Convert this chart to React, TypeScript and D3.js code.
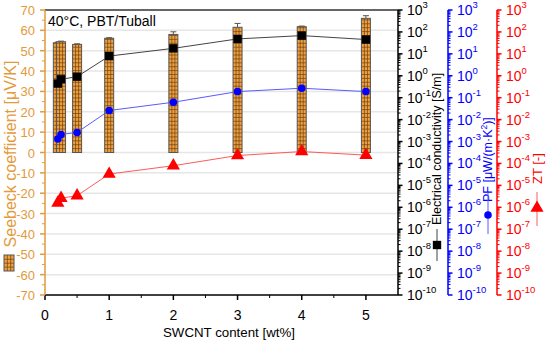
import React from "react";
import * as d3 from "d3";

// SWCNT content [wt%]
const contents = [0.2, 0.25, 0.5, 1, 2, 3, 4, 5];
// Seebeck coefficient [µV/K] and its error
const seebeck = [53.9, 54.4, 53.1, 56.1, 58.0, 61.5, 61.8, 65.9];
const seebeckErr = [0.3, 0.3, 0.3, 0.3, 1.3, 1.9, 0.3, 1.3];
// Electrical conductivity [S/m]
const conductivity = [0.44, 0.69, 0.91, 7.9, 17.8, 48, 68, 45];
// Power factor [µW/(m·K²)]
const powerFactor = [1.3e-3, 2.1e-3, 2.6e-3, 2.6e-2, 6.2e-2, 0.19, 0.27, 0.19];
// ZT [-]
const zt = [1.6e-6, 2.6e-6, 3.4e-6, 3.3e-5, 7.9e-5, 2.3e-4, 3.5e-4, 2.4e-4];

const xTicks = [0, 1, 2, 3, 4, 5];
const seebeckTicks = d3.range(-70, 71, 10);
const decades = d3.range(-10, 4);

const W = 550;
const H = 343;
const FONT = "'Liberation Sans', Arial, sans-serif";
const ORANGE = "#E39A3B";
const BAR = "#F0A040";
const GRIDLINE = "#6b4210";

const left = 45;
const right = 398;
const top = 10;
const bottom = 295;

function LogAxis({ x0, color, scale }: { x0: number; color: string; scale: d3.ScaleLogarithmic<number, number> }) {
  const minors: number[] = [];
  decades.slice(0, -1).forEach((d) => {
    for (let m = 2; m < 10; m++) minors.push(m * Math.pow(10, d));
  });
  return (
    <g>
      <line x1={x0} x2={x0} y1={top} y2={bottom} stroke={color} strokeWidth={1.5} />
      {minors.map((v, i) => (
        <line key={i} x1={x0} x2={x0 + 2.5} y1={scale(v)} y2={scale(v)} stroke={color} strokeWidth={1} />
      ))}
      {decades.map((d) => {
        const y = scale(Math.pow(10, d));
        return (
          <g key={d}>
            <line x1={x0} x2={x0 + 4.5} y1={y} y2={y} stroke={color} strokeWidth={1.5} />
            <text x={x0 + 9} y={y + 5} fill={color} fontSize={14} fontFamily={FONT}>
              10
              <tspan fontSize={9.5} dy={-7}>
                {d}
              </tspan>
            </text>
          </g>
        );
      })}
    </g>
  );
}

function PatternBar({ cx, y1, y2, bw }: { cx: number; y1: number; y2: number; bw: number }) {
  // y1 = top, y2 = bottom; grid rows counted up from the bottom
  const x0 = cx - bw / 2;
  const rows: number[] = [];
  for (let y = y2 - 3.9; y > y1 + 0.5; y -= 3.9) rows.push(y);
  return (
    <g>
      <rect x={x0} y={y1} width={bw} height={y2 - y1} fill={BAR} />
      {[1, 2].map((k) => (
        <line key={k} x1={x0 + (bw * k) / 3} x2={x0 + (bw * k) / 3} y1={y1} y2={y2} stroke={GRIDLINE} strokeWidth={0.7} />
      ))}
      {rows.map((ry, i) => (
        <line key={i} x1={x0} x2={x0 + bw} y1={ry} y2={ry} stroke={GRIDLINE} strokeWidth={0.7} />
      ))}
      <rect x={x0} y={y1} width={bw} height={y2 - y1} fill="none" stroke="#555" strokeWidth={1} />
    </g>
  );
}

export default function App() {
  const x = d3.scaleLinear().domain([0, 5.5]).range([left, right]);
  const yS = d3.scaleLinear().domain([-70, 70]).range([bottom, top]);
  const yLog = d3.scaleLog().domain([1e-10, 1e3]).range([bottom, top]);

  const barW = 9;
  const xMinor = d3.range(0.5, 5.5, 1);
  const sMinor = d3.range(-65, 70, 10);

  const line = (vals: number[]) =>
    d3
      .line<number>()
      .x((_, i) => x(contents[i]))
      .y((v) => yLog(v))(vals) || "";

  const square = d3.symbol().type(d3.symbolSquare).size(70)();
  const circle = d3.symbol().type(d3.symbolCircle).size(45)();
  const triangle = d3.symbol().type(d3.symbolTriangle).size(75)();

  const y0 = yS(0);

  return (
    <svg width={W} height={H} style={{ position: "absolute", left: 0, top: 0, background: "#fff" }}>
      {/* grid */}
      {seebeckTicks.slice(1, -1).map((t) => (
        <line key={t} x1={left} x2={right} y1={yS(t)} y2={yS(t)} stroke="#e6e6e6" strokeWidth={1.5} />
      ))}

      {/* Seebeck bars */}
      {contents.map((c, i) => {
        const topY = yS(seebeck[i]);
        const errY = yS(seebeck[i] + seebeckErr[i]);
        return (
          <g key={c}>
            <PatternBar cx={x(c)} y1={topY} y2={y0} bw={barW} />
            <line x1={x(c)} x2={x(c)} y1={errY} y2={topY} stroke="#555" strokeWidth={1} />
            <line x1={x(c) - 3} x2={x(c) + 3} y1={errY} y2={errY} stroke="#555" strokeWidth={1} />
          </g>
        );
      })}

      {/* lines */}
      <path d={line(conductivity)} fill="none" stroke="#444" strokeWidth={1} />
      <path d={line(powerFactor)} fill="none" stroke="#5a5aff" strokeWidth={1} />
      <path d={line(zt)} fill="none" stroke="#ff5a5a" strokeWidth={1} />
      {contents.map((c, i) => (
        <g key={c}>
          <path d={square} transform={`translate(${x(c)},${yLog(conductivity[i])})`} fill="#000" />
          <path d={circle} transform={`translate(${x(c)},${yLog(powerFactor[i])})`} fill="#0000ff" />
          <path d={triangle} transform={`translate(${x(c)},${yLog(zt[i])})`} fill="#ff0000" />
        </g>
      ))}

      {/* frame */}
      <line x1={left} x2={right} y1={top} y2={top} stroke="#333" strokeWidth={1.5} />

      {/* x axis */}
      <line x1={left} x2={right} y1={bottom} y2={bottom} stroke="#000" strokeWidth={1.5} />
      {xTicks.map((t) => (
        <g key={t}>
          <line x1={x(t)} x2={x(t)} y1={bottom} y2={bottom + 5} stroke="#000" strokeWidth={1.5} />
          <text x={x(t)} y={bottom + 24.5} textAnchor="middle" fontSize={14} fontFamily={FONT}>
            {t}
          </text>
        </g>
      ))}
      {xMinor.map((t) => (
        <line key={t} x1={x(t)} x2={x(t)} y1={bottom} y2={bottom + 3} stroke="#000" strokeWidth={1} />
      ))}
      <text x={229} y={337} textAnchor="middle" fontSize={13.3} fontFamily={FONT}>
        SWCNT content [wt%]
      </text>

      {/* left axis */}
      <line x1={left} x2={left} y1={top} y2={bottom} stroke={ORANGE} strokeWidth={1.5} />
      {seebeckTicks.map((t) => (
        <g key={t}>
          <line x1={left - 5} x2={left} y1={yS(t)} y2={yS(t)} stroke={ORANGE} strokeWidth={1.5} />
          <text x={35} y={yS(t) + 5} textAnchor="end" fill={ORANGE} fontSize={13} fontFamily={FONT}>
            {t}
          </text>
        </g>
      ))}
      {sMinor.map((t) => (
        <line key={t} x1={left - 3} x2={left} y1={yS(t)} y2={yS(t)} stroke={ORANGE} strokeWidth={1} />
      ))}
      <text
        transform={`translate(16,154) rotate(-90)`}
        textAnchor="middle"
        fill={ORANGE}
        fontSize={16}
        fontFamily={FONT}
      >
        Seebeck coefficient [μV/K]
      </text>
      <PatternBar cx={9} y1={255} y2={271} bw={10} />

      {/* right log axes */}
      <LogAxis x0={right} color="#000" scale={yLog} />
      <LogAxis x0={448} color="#0000ff" scale={yLog} />
      <LogAxis x0={497} color="#ff0000" scale={yLog} />

      {/* right titles with legend symbols */}
      <text transform={`translate(441,225) rotate(-90)`} fontSize={12.5} fontFamily={FONT} fill="#000">
        Electrical conductivity [S/m]
      </text>
      <line x1={437} x2={437} y1={229} y2={261} stroke="#444" strokeWidth={1} />
      <path d={square} transform={`translate(437,245)`} fill="#000" />

      <text transform={`translate(492,202) rotate(-90)`} fontSize={12.5} fontFamily={FONT} fill="#0000ff">
        PF [μW/(m·K
        <tspan fontSize={8.5} dy={-5}>
          2
        </tspan>
        <tspan dy={5}>)]</tspan>
      </text>
      <line x1={488} x2={488} y1={193} y2={234} stroke="#5a5aff" strokeWidth={1} />
      <path d={circle} transform={`translate(488,215)`} fill="#0000ff" />

      <text transform={`translate(542,184) rotate(-90)`} fontSize={13} fontFamily={FONT} fill="#ff0000">
        ZT [-]
      </text>
      <line x1={537} x2={537} y1={192} y2={226} stroke="#ff5a5a" strokeWidth={1} />
      <path d={triangle} transform={`translate(537,208)`} fill="#ff0000" />

      {/* inline label */}
      <text x={48} y={26} fontSize={14} fontFamily={FONT}>
        40°C, PBT/Tuball
      </text>
    </svg>
  );
}
